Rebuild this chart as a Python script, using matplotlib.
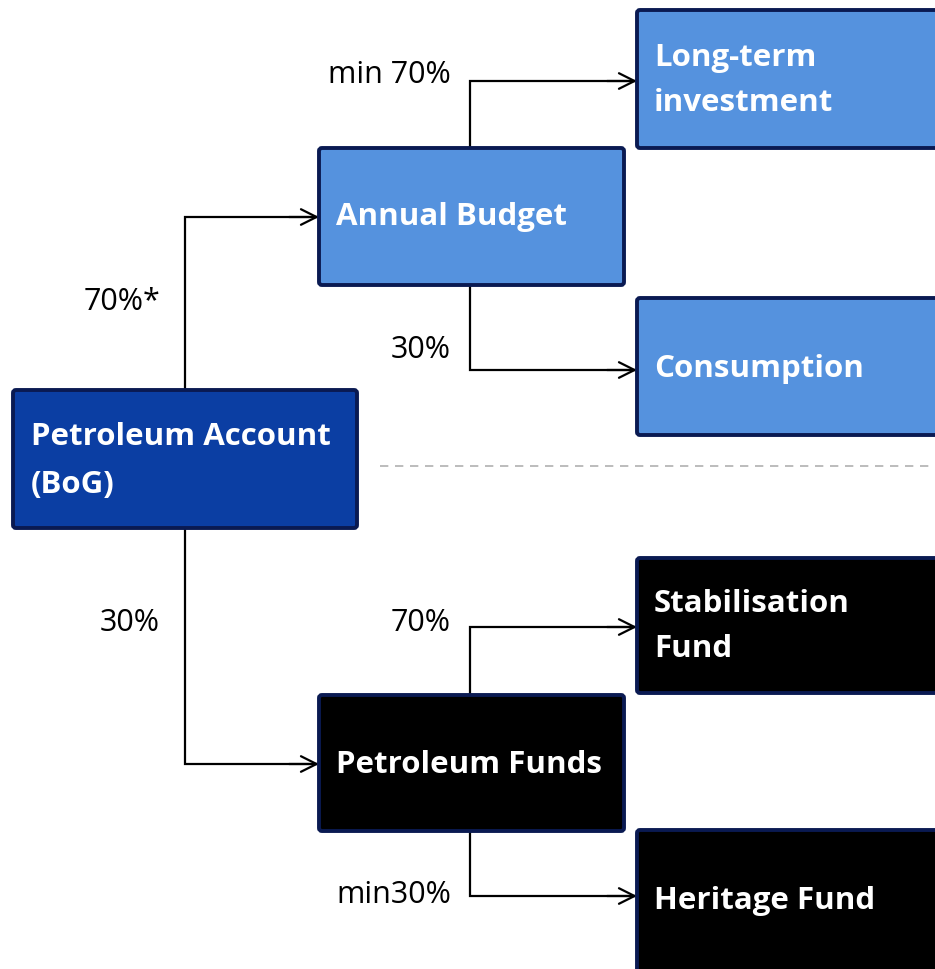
import matplotlib.pyplot as plt
from matplotlib.patches import FancyBboxPatch

# --- data ---
nodes = ["Petroleum Account\n(BoG)", "Annual Budget", "Long-term\ninvestment",
         "Consumption", "Petroleum Funds", "Stabilisation\nFund", "Heritage Fund"]
flows = [(0, 1, "70%*"), (0, 4, "30%"), (1, 2, "min 70%"), (1, 3, "30%"),
         (4, 5, "70%"), (4, 6, "min30%")]

# --- layout (pixel coords, y down) ---
boxes = {  # x0, y0, x1, y1
    0: (13, 391, 357, 529),
    1: (319, 149, 624, 286),
    2: (637, 11, 945, 149),
    3: (637, 299, 945, 436),
    4: (319, 696, 624, 832),
    5: (637, 559, 945, 694),
    6: (637, 831, 945, 985),
}
fills = {0: "#0b3ea3", 1: "#5592de", 2: "#5592de", 3: "#5592de",
         4: "#000000", 5: "#000000", 6: "#000000"}
edge = "#0a1a52"
# (trunk x, elbow y, label x, label y)
routes = {
    (0, 1): (185, 218, 160, 302),
    (0, 4): (185, 765, 160, 623),
    (1, 2): (470, 82, 451, 75),
    (1, 3): (470, 371, 451, 350),
    (4, 5): (470, 628, 451, 623),
    (4, 6): (470, 897, 451, 895),
}
text_pos = {0: (31, 458), 1: (336, 214), 2: (654, 77), 3: (654, 366),
            4: (336, 762), 5: (654, 623), 6: (654, 898)}
line_gap = {0: 48, 2: 45, 5: 45}

fig = plt.figure(figsize=(9.35, 9.7), dpi=100)
ax = fig.add_axes([0, 0, 1, 1])
ax.set_xlim(0, 935)
ax.set_ylim(970, 0)
ax.axis("off")

for i, name in enumerate(nodes):
    x0, y0, x1, y1 = boxes[i]
    ax.add_patch(FancyBboxPatch((x0, y0), x1 - x0, y1 - y0,
                                boxstyle="round,pad=0,rounding_size=3",
                                fc=fills[i], ec=edge, lw=2.8, zorder=2))
    tx, ty = text_pos[i]
    lines = name.split("\n")
    gap = line_gap.get(i, 0)
    top = ty - gap * (len(lines) - 1) / 2
    for k, line in enumerate(lines):
        ax.text(tx, top + k * gap, line, color="white", fontsize=22.5,
                fontweight="bold", family="Open Sans", ha="left",
                va="center_baseline", zorder=3)

for src, dst, share in flows:
    sx0, sy0, sx1, sy1 = boxes[src]
    dx0 = boxes[dst][0]
    tx, ey, lx, ly = routes[(src, dst)]
    start_y = sy0 if ey < sy0 else sy1
    ax.plot([tx, tx, dx0 - 3], [start_y, ey, ey], color="black", lw=1.6,
            zorder=1, solid_joinstyle="miter")
    ax.annotate("", xy=(dx0, ey), xytext=(dx0 - 30, ey),
                arrowprops=dict(arrowstyle="->", color="black", lw=1.6,
                                mutation_scale=28, shrinkA=0, shrinkB=0),
                zorder=1)
    ax.text(lx, ly, share, fontsize=22, family="Open Sans", color="black",
            ha="right", va="center")

ax.plot([380, 935], [467, 467], color="#b0b0b0", lw=1.2, ls=(0, (5, 4)))

fig.savefig("out.png", dpi=100, facecolor="white")
